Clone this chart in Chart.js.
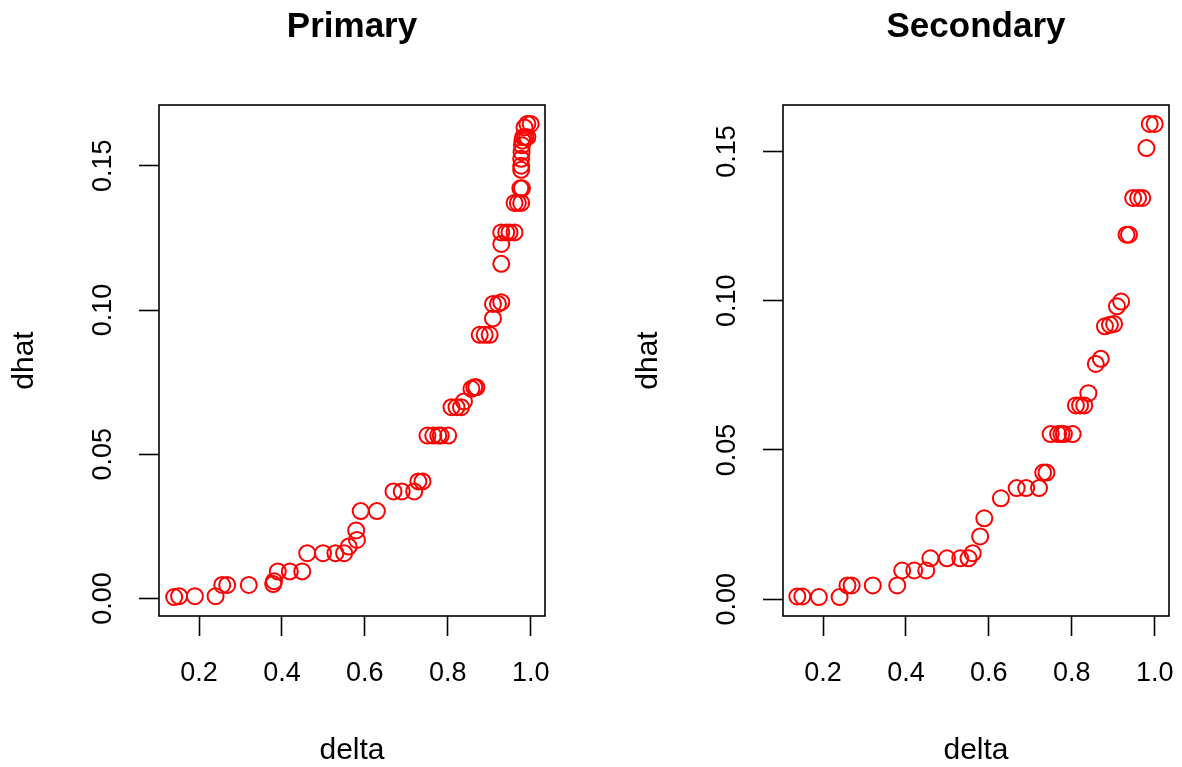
<!DOCTYPE html>
<html><head><meta charset="utf-8">
<script src="https://cdn.jsdelivr.net/npm/chart.js@4/dist/chart.umd.min.js"></script>
<style>
html,body{margin:0;padding:0;background:#fff;width:1182px;height:767px;overflow:hidden}
canvas{position:absolute;top:0}
#c1{left:0}
#c2{left:591px}
</style></head><body>
<canvas id="c1" width="591" height="767"></canvas>
<canvas id="c2" width="591" height="767"></canvas>
<script>
const xTickValues = [0.2, 0.4, 0.6, 0.8, 1.0];
const xTickLabels = ["0.2", "0.4", "0.6", "0.8", "1.0"];
const yTickValues = [0, 0.05, 0.10, 0.15];
const yTickLabels = ["0.00", "0.05", "0.10", "0.15"];

const primaryDelta = [0.140,0.152,0.190,0.240,0.256,0.268,0.320,0.379,0.381,0.390,0.419,0.449,0.461,0.499,0.529,0.550,0.561,0.581,0.579,0.590,0.629,0.669,0.689,0.719,0.729,0.739,0.751,0.765,0.777,0.783,0.801,0.809,0.821,0.832,0.839,0.857,0.864,0.869,0.877,0.889,0.901,0.909,0.909,0.921,0.929,0.929,0.929,0.929,0.941,0.949,0.961,0.961,0.969,0.977,0.975,0.979,0.977,0.977,0.977,0.978,0.979,0.980,0.982,0.987,0.992,0.985,0.992,1.000];
const primaryDhat = [0.0005,0.0008,0.0008,0.0008,0.0047,0.0047,0.0047,0.0050,0.0060,0.0094,0.0094,0.0094,0.0157,0.0157,0.0157,0.0157,0.0180,0.0203,0.0236,0.0303,0.0303,0.0371,0.0371,0.0371,0.0406,0.0406,0.0565,0.0565,0.0565,0.0565,0.0565,0.0663,0.0663,0.0663,0.0683,0.0727,0.0732,0.0732,0.0914,0.0914,0.0914,0.0971,0.1021,0.1021,0.1027,0.1160,0.1229,0.1269,0.1269,0.1269,0.1269,0.1371,0.1371,0.1371,0.1422,0.1422,0.1486,0.1500,0.1524,0.1547,0.1571,0.1587,0.1599,0.1599,0.1599,0.1633,0.1645,0.1645];

const secondaryDelta = [0.138,0.150,0.190,0.240,0.259,0.269,0.320,0.379,0.391,0.420,0.449,0.459,0.499,0.531,0.551,0.561,0.579,0.589,0.629,0.667,0.690,0.721,0.731,0.739,0.749,0.767,0.775,0.781,0.802,0.810,0.820,0.830,0.840,0.858,0.870,0.880,0.892,0.902,0.909,0.919,0.932,0.938,0.948,0.960,0.970,0.980,0.988,1.000];
const secondaryDhat = [0.0009,0.0009,0.0007,0.0007,0.0046,0.0046,0.0046,0.0046,0.0096,0.0096,0.0096,0.0137,0.0137,0.0137,0.0137,0.0154,0.0210,0.0271,0.0338,0.0372,0.0372,0.0372,0.0424,0.0424,0.0553,0.0553,0.0553,0.0553,0.0553,0.0649,0.0649,0.0649,0.0690,0.0788,0.0805,0.0914,0.0919,0.0922,0.0981,0.0997,0.1221,0.1221,0.1344,0.1344,0.1344,0.1511,0.1592,0.1592];

Chart.defaults.font.family = "'Liberation Sans', Arial, Helvetica, sans-serif";
Chart.defaults.color = '#000';

const framePlugin = {
  id: 'frame',
  afterDraw(c) {
    const a = c.chartArea, ctx = c.ctx;
    ctx.save();
    ctx.strokeStyle = '#000';
    ctx.lineWidth = 1.6;
    ctx.strokeRect(a.left, a.top, a.right - a.left, a.bottom - a.top);
    ctx.restore();
  }
};

function makeChart(id, titleText, xs, ys, cfg) {
  const pts = xs.map((x, i) => ({x: x, y: ys[i]}));
  const gridOpts = {display: true, drawOnChartArea: false, drawTicks: true, tickLength: 20, tickWidth: 1.6, tickColor: '#000'};
  return new Chart(document.getElementById(id), {
    type: 'scatter',
    data: {datasets: [{data: pts, pointStyle: 'circle', pointRadius: 8, pointBorderWidth: 2,
      borderColor: '#ff0000', backgroundColor: 'rgba(0,0,0,0)', pointBackgroundColor: 'rgba(0,0,0,0)', pointBorderColor: '#ff0000'}]},
    options: {
      responsive: false, animation: false, devicePixelRatio: 1,
      layout: {padding: {left: 0, right: cfg.rightPad, top: 0, bottom: 0}},
      plugins: {
        legend: {display: false}, tooltip: {enabled: false},
        title: {display: true, text: titleText, fullSize: false, color: '#000',
          font: {size: 35, weight: 'bold', lineHeight: 1.2}, padding: {top: 6, bottom: 57}}
      },
      scales: {
        x: {type: 'linear', position: 'bottom', min: 0.1035, max: 1.0345,
          afterBuildTicks: s => { s.ticks = xTickValues.map(v => ({value: v})); },
          afterFit: s => { s.height = 151; s.paddingLeft = 0; s.paddingRight = 0; },
          ticks: {callback: (v, i) => xTickLabels[i], font: {size: 27}, color: '#000', padding: 21, maxRotation: 0, autoSkip: false},
          grid: gridOpts, border: {display: false},
          title: {display: true, text: 'delta', color: '#000', font: {size: 30, lineHeight: 1}, padding: {top: 0, bottom: 1}}
        },
        y: {type: 'linear', position: 'left', min: cfg.yMin, max: cfg.yMax,
          afterBuildTicks: s => { s.ticks = yTickValues.map(v => ({value: v})); },
          afterFit: s => { s.width = cfg.yWidth; s.paddingTop = 0; s.paddingBottom = 0; },
          ticks: {callback: (v, i) => yTickLabels[i], font: {size: 27}, color: '#000', padding: 9, minRotation: 90, maxRotation: 90, crossAlign: 'center', autoSkip: false},
          grid: gridOpts, border: {display: false},
          title: {display: true, text: 'dhat', color: '#000', font: {size: 30, lineHeight: 1}, padding: {top: cfg.yTitlePad, bottom: 0}}
        }
      }
    },
    plugins: [framePlugin]
  });
}

makeChart('c1', 'Primary', primaryDelta, primaryDhat, {yWidth: 159, rightPad: 46, yMin: -0.00606, yMax: 0.17106, yTitlePad: 9.5});
makeChart('c2', 'Secondary', secondaryDelta, secondaryDhat, {yWidth: 192, rightPad: 13, yMin: -0.00564, yMax: 0.16554, yTitlePad: 42.5});
</script>
</body></html>
